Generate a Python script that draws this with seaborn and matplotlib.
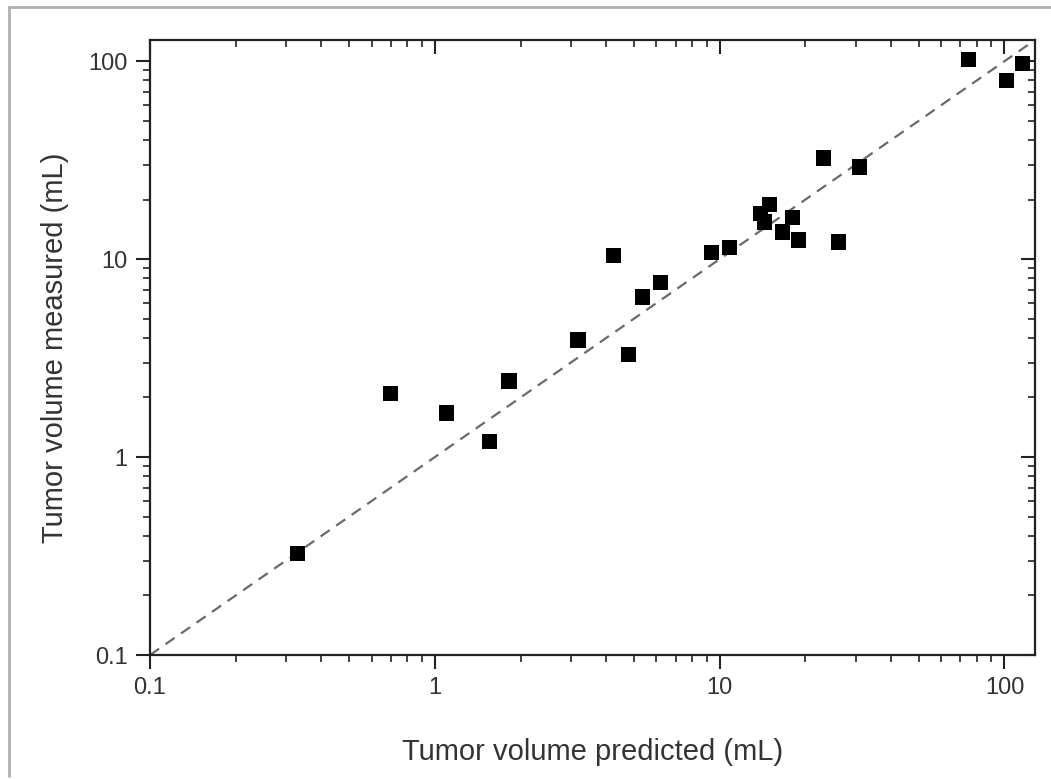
import numpy as np
import pandas as pd
import matplotlib
matplotlib.use("Agg")
import matplotlib.pyplot as plt
import seaborn as sns
from matplotlib.lines import Line2D
from matplotlib.ticker import LogLocator, FixedLocator, FixedFormatter, NullFormatter

# Values (mL)
predicted = [0.33, 0.70, 1.10, 1.56, 1.82, 3.18, 4.25, 4.80, 5.37, 6.21,
             9.38, 10.8, 14.96, 13.9, 14.4, 16.6, 18.0, 18.9, 23.2, 26.2,
             31.0, 74.8, 101.6, 115.6]
measured = [0.327, 2.10, 1.67, 1.20, 2.42, 3.90, 10.4, 3.31, 6.43, 7.65,
            10.8, 11.4, 18.97, 17.06, 15.4, 13.7, 16.3, 12.5, 32.4, 12.2,
            29.2, 102.0, 80.2, 97.6]
identity_line = [0.1, 130.0]
tick_values = [0.1, 1, 10, 100]
tick_labels = ["0.1", "1", "10", "100"]

df = pd.DataFrame({"predicted": predicted, "measured": measured})
line_df = pd.DataFrame({"x": identity_line, "y": identity_line})

sns.set_style("white")
plt.rcParams["font.family"] = ["Liberation Sans", "DejaVu Sans"]

fig = plt.figure(figsize=(10.51, 7.79), dpi=100)
ax = fig.add_axes([150 / 1051, 1 - 655 / 779, 885 / 1051, 615 / 779])

# light grey frame lines (left and top) around the figure
fx, fy = 9 / 1051, 1 - 7 / 779
fig.lines.append(Line2D([fx, fx], [0.004, fy], transform=fig.transFigure,
                        color="#b0b0b0", linewidth=2))
fig.lines.append(Line2D([fx, 1.0], [fy, fy], transform=fig.transFigure,
                        color="#b0b0b0", linewidth=2))

sns.lineplot(data=line_df, x="x", y="y", ax=ax, color="#6a6a6a",
             linestyle=(0, (5, 3.5)), linewidth=1.6, zorder=1)
sns.scatterplot(data=df, x="predicted", y="measured", ax=ax, marker="s",
                color="black", s=120, edgecolor="none", zorder=3)

ax.set_xscale("log")
ax.set_yscale("log")
ax.set_xlim(0.1, 128)
ax.set_ylim(0.1, 128)

for axis in (ax.xaxis, ax.yaxis):
    axis.set_major_locator(FixedLocator(tick_values))
    axis.set_major_formatter(FixedFormatter(tick_labels))
    axis.set_minor_locator(LogLocator(base=10, subs=np.arange(2, 10)))
    axis.set_minor_formatter(NullFormatter())

ax.tick_params(which="both", bottom=True, left=True, top=True, right=True)
ax.tick_params(which="major", direction="out", length=10, width=1.5,
               labelsize=17, pad=6, colors="#222222", labelcolor="#333333")
ax.tick_params(which="minor", direction="out", length=5, width=1.2,
               colors="#222222")

# top and right ticks point inward
for t in ax.xaxis.get_major_ticks() + ax.xaxis.get_minor_ticks():
    t.tick2line.set_marker(3)
for t in ax.yaxis.get_major_ticks() + ax.yaxis.get_minor_ticks():
    t.tick2line.set_marker(0)

for spine in ax.spines.values():
    spine.set_visible(True)
    spine.set_color("#222222")
    spine.set_linewidth(1.6)

ax.set_xlabel("Tumor volume predicted (mL)", fontsize=21, color="#333333",
              labelpad=28)
ax.set_ylabel("Tumor volume measured (mL)", fontsize=21, color="#333333",
              labelpad=14)

fig.savefig("out.png", dpi=100)
